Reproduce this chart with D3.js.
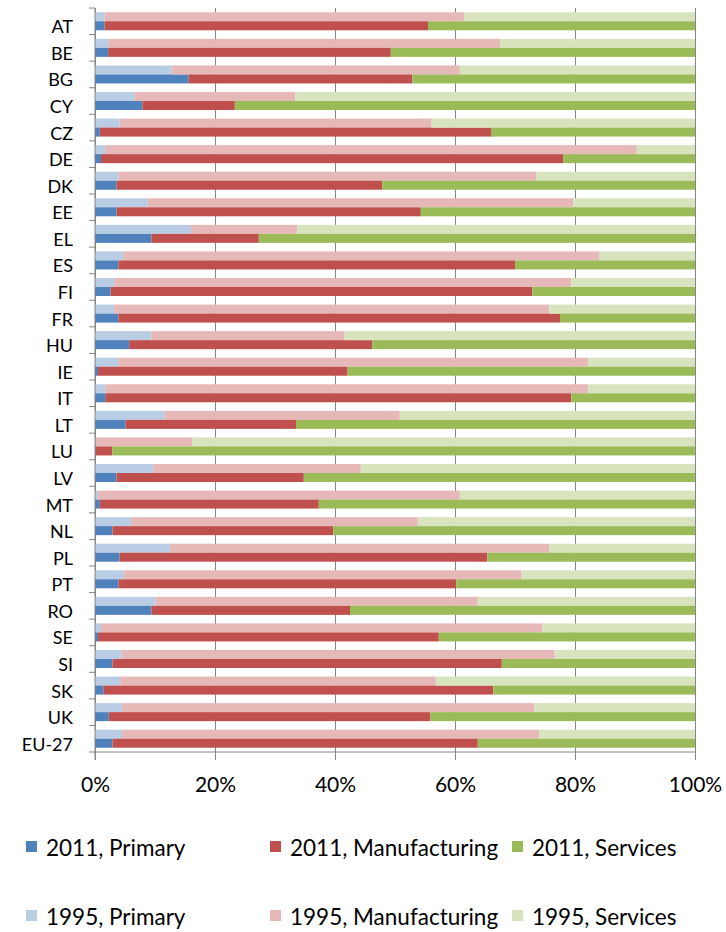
<!DOCTYPE html>
<html lang="en">
<head>
<meta charset="UTF-8">
<title>Employment by sector, 1995 and 2011</title>
<script src="https://d3js.org/d3.v7.min.js"></script>
<style>
    body {
        margin: 0;
        background: #fff;
        font-family: Lato, "Liberation Sans", sans-serif;
    }
    .grid line { stroke: #868686; }
</style>
</head>
<body>
<div id="chart"></div>
<script>
// shares in %
var countries = ["AT", "BE", "BG", "CY", "CZ", "DE", "DK", "EE", "EL", "ES", "FI", "FR", "HU", "IE", "IT",
    "LT", "LU", "LV", "MT", "NL", "PL", "PT", "RO", "SE", "SI", "SK", "UK", "EU-27"];

var primary1995  = [1.6, 2.2, 12.8, 6.6, 4.1, 1.7, 3.9, 8.8, 16.0, 4.7, 3.2, 3.2, 9.4, 3.9, 1.7, 11.6, 0.1, 9.7, 0.5, 6.0, 12.5, 4.8, 10.1, 1.0, 4.4, 4.2, 4.5, 4.5];
var manuf1995    = [60.0, 65.3, 48.0, 26.8, 52.0, 88.6, 69.6, 70.9, 17.7, 79.4, 76.2, 72.5, 32.2, 78.3, 80.5, 39.2, 16.1, 34.6, 60.3, 47.8, 63.2, 66.3, 53.7, 73.6, 72.2, 52.6, 68.7, 69.5];
var services1995 = [38.4, 32.5, 39.2, 66.6, 43.9, 9.7, 26.5, 20.3, 66.3, 15.9, 20.6, 24.3, 58.4, 17.8, 17.8, 49.2, 83.8, 55.7, 39.2, 46.2, 24.3, 28.9, 36.2, 25.4, 23.4, 43.2, 26.8, 26.0];

var primary2011  = [1.6, 2.2, 15.6, 7.9, 0.8, 1.0, 3.6, 3.6, 9.4, 3.9, 2.6, 3.9, 5.7, 0.5, 1.7, 5.1, 0.1, 3.6, 0.8, 2.9, 4.1, 3.9, 9.4, 0.5, 2.9, 1.4, 2.3, 2.9];
var manuf2011    = [53.9, 47.1, 37.3, 15.4, 65.2, 77.0, 44.3, 50.7, 17.9, 66.1, 70.3, 73.6, 40.5, 41.6, 77.7, 28.4, 2.8, 31.2, 36.5, 36.8, 61.3, 56.3, 33.1, 56.8, 64.9, 65.0, 53.6, 60.9];
var services2011 = [44.5, 50.7, 47.1, 76.7, 34.0, 22.0, 52.1, 45.7, 72.7, 30.0, 27.1, 22.5, 53.8, 57.9, 20.6, 66.5, 97.1, 65.2, 62.7, 60.3, 34.6, 39.8, 57.5, 42.7, 32.2, 33.6, 44.1, 36.2];

var years = ["1995", "2011"];
var sectors = ["Primary", "Manufacturing", "Services"];
var xTicks = [0, 0.2, 0.4, 0.6, 0.8, 1];

var colors = {
    "2011": {Primary: "#4F81BD", Manufacturing: "#C0504D", Services: "#9BBB59"},
    "1995": {Primary: "#B9CDE5", Manufacturing: "#E6B9B8", Services: "#D7E4BD"}
};

// one row per country and year
var rows = [];
countries.forEach(function(c, i) {
    rows.push({country: c, year: "1995", Primary: primary1995[i], Manufacturing: manuf1995[i], Services: services1995[i]});
    rows.push({country: c, year: "2011", Primary: primary2011[i], Manufacturing: manuf2011[i], Services: services2011[i]});
});

var width = 726, height = 932;
var plotLeft = 95, plotRight = 695, plotTop = 8, plotBottom = 752;

var svg = d3.select("#chart")
    .append("svg")
    .attr("width", width)
    .attr("height", height);

var x = d3.scaleLinear().domain([0, 1]).range([plotLeft, plotRight]);
var y = d3.scaleBand().domain(countries).range([plotTop, plotBottom]);
var yInner = d3.scaleBand().domain(years).range([0, y.bandwidth()])
    .paddingInner(0).paddingOuter(0.475);

// vertical gridlines + x labels
var xAxis = svg.append("g")
    .attr("class", "grid")
    .attr("transform", "translate(0," + (plotBottom + 8) + ")")
    .call(d3.axisBottom(x)
        .tickValues(xTicks)
        .tickFormat(d3.format(".0%"))
        .tickSize(-(plotBottom + 8 - plotTop))
        .tickPadding(17));
xAxis.select(".domain").remove();
xAxis.selectAll("text")
    .style("font-size", "21px")
    .style("font-family", "Lato, 'Liberation Sans', sans-serif")
    .attr("fill", "#000");

// stacked bars
var stack = d3.stack().keys(sectors).offset(d3.stackOffsetExpand);
var series = stack(rows);

svg.append("g")
    .selectAll("g")
    .data(series)
    .enter()
    .append("g")
    .selectAll("rect")
    .data(function(s) { return s.map(function(d) { d.key = s.key; return d; }); })
    .enter()
    .append("rect")
    .attr("x", function(d) { return x(d[0]); })
    .attr("width", function(d) { return x(d[1]) - x(d[0]); })
    .attr("y", function(d) { return y(d.data.country) + yInner(d.data.year); })
    .attr("height", yInner.bandwidth())
    .attr("fill", function(d) { return colors[d.data.year][d.key]; });

// axes lines
svg.append("line")
    .attr("x1", plotLeft).attr("x2", plotRight)
    .attr("y1", plotBottom).attr("y2", plotBottom)
    .attr("stroke", "#868686");
svg.append("line")
    .attr("x1", plotLeft).attr("x2", plotLeft)
    .attr("y1", plotTop).attr("y2", plotBottom + 8)
    .attr("stroke", "#868686");

// category ticks at band boundaries
var bounds = countries.map(function(c) { return y(c); }).concat([plotBottom]);
svg.append("g")
    .selectAll("line")
    .data(bounds)
    .enter()
    .append("line")
    .attr("x1", plotLeft - 6).attr("x2", plotLeft)
    .attr("y1", function(d) { return d; })
    .attr("y2", function(d) { return d; })
    .attr("stroke", "#868686");

// category labels
svg.append("g")
    .selectAll("text")
    .data(countries)
    .enter()
    .append("text")
    .attr("x", 73)
    .attr("y", function(d) { return y(d) + y.bandwidth() / 2 + 5; })
    .attr("text-anchor", "end")
    .attr("dominant-baseline", "central")
    .style("font-size", "18px")
    .text(function(d) { return d; });

// legend
var legendItems = [];
["2011", "1995"].forEach(function(yr) {
    sectors.forEach(function(s) {
        legendItems.push({label: yr + ", " + s, color: colors[yr][s]});
    });
});
var legendCols = [26, 270, 512];
var legendRows = [841, 910];

var legend = svg.append("g")
    .selectAll("g")
    .data(legendItems)
    .enter()
    .append("g")
    .attr("transform", function(d, i) {
        return "translate(" + legendCols[i % 3] + "," + legendRows[Math.floor(i / 3)] + ")";
    });
legend.append("rect")
    .attr("width", 11)
    .attr("height", 11)
    .attr("fill", function(d) { return d.color; });
legend.append("text")
    .attr("x", 20)
    .attr("y", 15)
    .style("font-size", "22.5px")
    .text(function(d) { return d.label; });
</script>
</body>
</html>
